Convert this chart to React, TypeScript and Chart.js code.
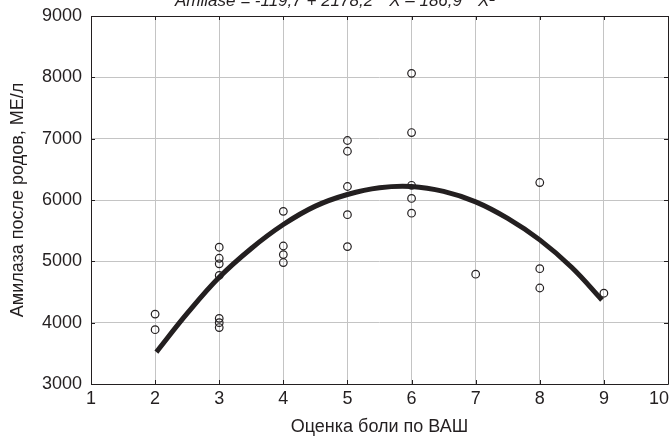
import React, { useEffect, useRef } from "react";
import { Chart, registerables } from "chart.js";

Chart.register(...registerables);

// Observed points: pain score (VAS) and postpartum amylase
const painScores = [2, 2, 3, 3, 3, 3, 3, 3, 3, 4, 4, 4, 4, 5, 5, 5, 5, 5, 6, 6, 6, 6, 6, 7, 8, 8, 8, 9];
const amylase = [4140, 3885, 5230, 5050, 4960, 4770, 4070, 4000, 3920, 5815, 5250, 5110, 4980, 6970, 6795, 6220, 5760, 5240, 8065, 7100, 6240, 6025, 5785, 4790, 6285, 4880, 4565, 4480];

// Fitted curve
const fitX = [2.02, 2.5, 3, 3.5, 4, 4.5, 5, 5.5, 6, 6.5, 7, 7.5, 8, 8.5, 8.97];
const fitY = [3520, 4150, 4740, 5210, 5600, 5900, 6090, 6200, 6220, 6140, 5970, 5700, 5350, 4900, 4370];

const xTicks = [1, 2, 3, 4, 5, 6, 7, 8, 9, 10];
const yTicks = [3000, 4000, 5000, 6000, 7000, 8000, 9000];

const titleText = "Amilase = -119,7 + 2178,2 * X \u2013 186,9 * X\u00b2";
const xTitle = "Оценка боли по ВАШ";
const yTitle = "Амилаза после родов, МЕ/л";

const INK = "#231f20";
const GRID = "#c4c4c4";
const FONT = "'Liberation Sans', Arial, sans-serif";

const framePlugin = {
  id: "frameAndTitle",
  afterDatasetsDraw(chart: any) {
    const { ctx, chartArea } = chart;
    const { left, right, top, bottom } = chartArea;
    const xs = chart.scales.x;
    const ys = chart.scales.y;
    ctx.save();
    ctx.strokeStyle = INK;
    ctx.lineWidth = 1;
    ctx.beginPath();
    ctx.rect(Math.round(left) + 0.5, Math.round(top) + 0.5, Math.round(right - left), Math.round(bottom - top));
    ctx.stroke();
    const tl = 4;
    ctx.beginPath();
    xTicks.forEach((v) => {
      const px = Math.round(xs.getPixelForValue(v)) + 0.5;
      ctx.moveTo(px, bottom);
      ctx.lineTo(px, bottom - tl);
      ctx.moveTo(px, top);
      ctx.lineTo(px, top + tl);
    });
    yTicks.forEach((v) => {
      const py = Math.round(ys.getPixelForValue(v)) + 0.5;
      ctx.moveTo(left, py);
      ctx.lineTo(left + tl, py);
      ctx.moveTo(right, py);
      ctx.lineTo(right - tl, py);
    });
    ctx.stroke();
    ctx.restore();
  },
  afterDraw(chart: any) {
    const { ctx, chartArea, width } = chart;
    const xs = chart.scales.x;
    ctx.save();
    ctx.fillStyle = INK;
    // x tick labels, kept inside the canvas
    ctx.font = `18px ${FONT}`;
    ctx.textAlign = "left";
    ctx.textBaseline = "top";
    xTicks.forEach((v) => {
      const label = String(v);
      const w = ctx.measureText(label).width;
      let x0 = xs.getPixelForValue(v) - w / 2;
      if (x0 + w > width - 2) x0 = width - 2 - w;
      ctx.fillText(label, x0, chartArea.bottom + 6);
    });
    // clipped equation title
    ctx.font = `italic 17px ${FONT}`;
    ctx.textAlign = "center";
    ctx.textBaseline = "alphabetic";
    ctx.fillText(titleText, 335, 6);
    ctx.restore();
  },
};

export default function App() {
  const ref = useRef<HTMLCanvasElement | null>(null);

  useEffect(() => {
    document.body.style.margin = "0";
    const canvas = ref.current;
    if (!canvas) return;
    const chart = new Chart(canvas, {
      type: "scatter",
      data: {
        datasets: [
          {
            label: "fit",
            data: fitX.map((x, i) => ({ x, y: fitY[i] })),
            showLine: true,
            borderColor: INK,
            borderWidth: 5,
            borderCapStyle: "butt",
            tension: 0.4,
            pointRadius: 0,
            fill: false,
            order: 0,
          },
          {
            label: "data",
            data: painScores.map((x, i) => ({ x, y: amylase[i] })),
            showLine: false,
            pointRadius: 3.8,
            pointBorderWidth: 1.2,
            pointBorderColor: INK,
            pointBackgroundColor: "rgba(0,0,0,0)",
            order: 1,
          },
        ],
      } as any,
      options: {
        animation: false,
        responsive: true,
        maintainAspectRatio: false,
        layout: { padding: { top: 16, right: 3, left: 0, bottom: 0 }, autoPadding: false } as any,
        plugins: {
          legend: { display: false },
          tooltip: { enabled: false },
          title: { display: false },
        },
        scales: {
          x: {
            type: "linear",
            min: 1,
            max: 10,
            afterBuildTicks: (s: any) => {
              s.ticks = xTicks.map((v) => ({ value: v }));
            },
            afterFit: (s: any) => {
              s.height = 54;
              s.paddingLeft = 0;
              s.paddingRight = 0;
            },
            grid: { color: GRID, lineWidth: 1, drawTicks: false },
            border: { display: false },
            ticks: {
              display: false,
            },
            title: {
              display: true,
              text: xTitle,
              color: INK,
              font: { family: FONT, size: 18 },
              padding: { top: 2, bottom: 0 },
            },
          },
          y: {
            type: "linear",
            min: 3000,
            max: 9000,
            afterBuildTicks: (s: any) => {
              s.ticks = yTicks.map((v) => ({ value: v }));
            },
            afterFit: (s: any) => {
              s.width = 91;
              s.paddingTop = 0;
              s.paddingBottom = 0;
            },
            grid: { color: GRID, lineWidth: 1, drawTicks: false },
            border: { display: false },
            ticks: {
              color: INK,
              font: { family: FONT, size: 18 },
              padding: 9,
              autoSkip: false,
              callback: (v: any) => String(v),
            },
            title: {
              display: true,
              text: yTitle,
              color: INK,
              font: { family: FONT, size: 18 },
              padding: { top: 7, bottom: 0 },
            },
          },
        },
      } as any,
      plugins: [framePlugin],
    });
    return () => chart.destroy();
  }, []);

  return (
    <div style={{ width: 671, height: 438, position: "relative" }}>
      <canvas ref={ref} />
    </div>
  );
}
